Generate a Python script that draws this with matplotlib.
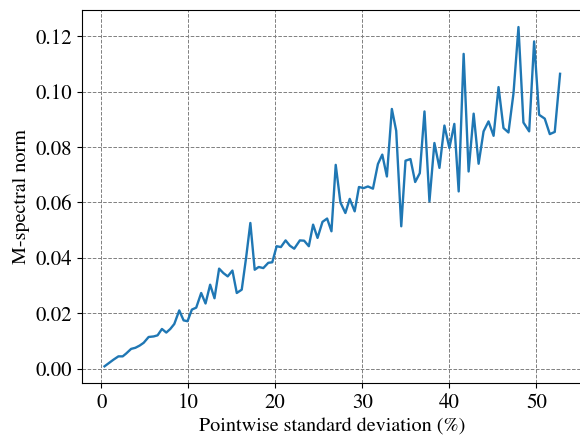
import matplotlib
matplotlib.use("Agg")
import matplotlib.pyplot as plt

# pointwise standard deviation (%) and M-spectral norm
std_dev = [0.38, 1.41, 1.98, 2.47, 2.86, 3.44, 3.93, 4.42, 4.88, 5.45,
           6.03, 6.48, 6.98, 7.48, 7.94, 8.40, 8.97, 9.47, 9.92, 10.42,
           10.92, 11.49, 11.99, 12.52, 13.02, 13.55, 14.04, 14.54, 15.08, 15.58,
           16.15, 16.65, 17.14, 17.64, 18.10, 18.63, 19.20, 19.66, 20.16, 20.65,
           21.19, 21.68, 22.18, 22.83, 23.32, 23.86, 24.35, 24.86, 25.43, 25.96,
           26.46, 26.95, 27.49, 28.06, 28.56, 29.13, 29.62, 30.16, 30.65, 31.23,
           31.80, 32.30, 32.83, 33.40, 33.90, 34.48, 34.97, 35.54, 36.08, 36.61,
           37.15, 37.72, 38.29, 38.87, 39.44, 40.01, 40.58, 41.08, 41.65, 42.22,
           42.80, 43.37, 43.94, 44.51, 45.09, 45.66, 46.23, 46.80, 47.38, 47.95,
           48.52, 49.18, 49.75, 50.32, 50.97, 51.55, 52.12, 52.73]
norm = [0.0008, 0.0032, 0.0044, 0.0044, 0.0054, 0.0071, 0.0075, 0.0083, 0.0093, 0.0114,
        0.0116, 0.0120, 0.0143, 0.0130, 0.0143, 0.0161, 0.0210, 0.0174, 0.0171, 0.0213,
        0.0220, 0.0273, 0.0235, 0.0303, 0.0254, 0.0361, 0.0345, 0.0333, 0.0354, 0.0273,
        0.0285, 0.0400, 0.0526, 0.0357, 0.0367, 0.0363, 0.0382, 0.0384, 0.0442, 0.0439,
        0.0463, 0.0444, 0.0433, 0.0463, 0.0462, 0.0442, 0.0520, 0.0472, 0.0530, 0.0542,
        0.0496, 0.0736, 0.0600, 0.0562, 0.0613, 0.0568, 0.0656, 0.0652, 0.0658, 0.0650,
        0.0739, 0.0773, 0.0694, 0.0938, 0.0859, 0.0514, 0.0751, 0.0757, 0.0674, 0.0706,
        0.0929, 0.0604, 0.0815, 0.0725, 0.0878, 0.0797, 0.0884, 0.0640, 0.1137, 0.0712,
        0.0921, 0.0740, 0.0857, 0.0893, 0.0841, 0.1017, 0.0869, 0.0853, 0.0995, 0.1234,
        0.0889, 0.0857, 0.1182, 0.0917, 0.0903, 0.0847, 0.0855, 0.1065]

plt.rcParams['font.family'] = ['STIXGeneral', 'DejaVu Serif']
plt.rcParams['mathtext.fontset'] = 'stix'

fig = plt.figure(figsize=(5.8, 4.36), dpi=100)
ax = fig.add_axes([0.1409, 0.1209, 0.864, 0.856])

ax.plot(std_dev, norm, color='#1f77b4', linewidth=1.7)
ax.grid(True, linestyle='--', color='#808080', linewidth=0.7)

ax.set_xlabel("Pointwise standard deviation (%)", fontsize=14.5)
ax.set_ylabel("M-spectral norm", fontsize=14.5)
ax.tick_params(labelsize=15)
ax.set_yticks([0.0, 0.02, 0.04, 0.06, 0.08, 0.10, 0.12])
ax.set_yticklabels(["0.00", "0.02", "0.04", "0.06", "0.08", "0.10", "0.12"])

plt.savefig("out.png", dpi=100)
plt.close()
